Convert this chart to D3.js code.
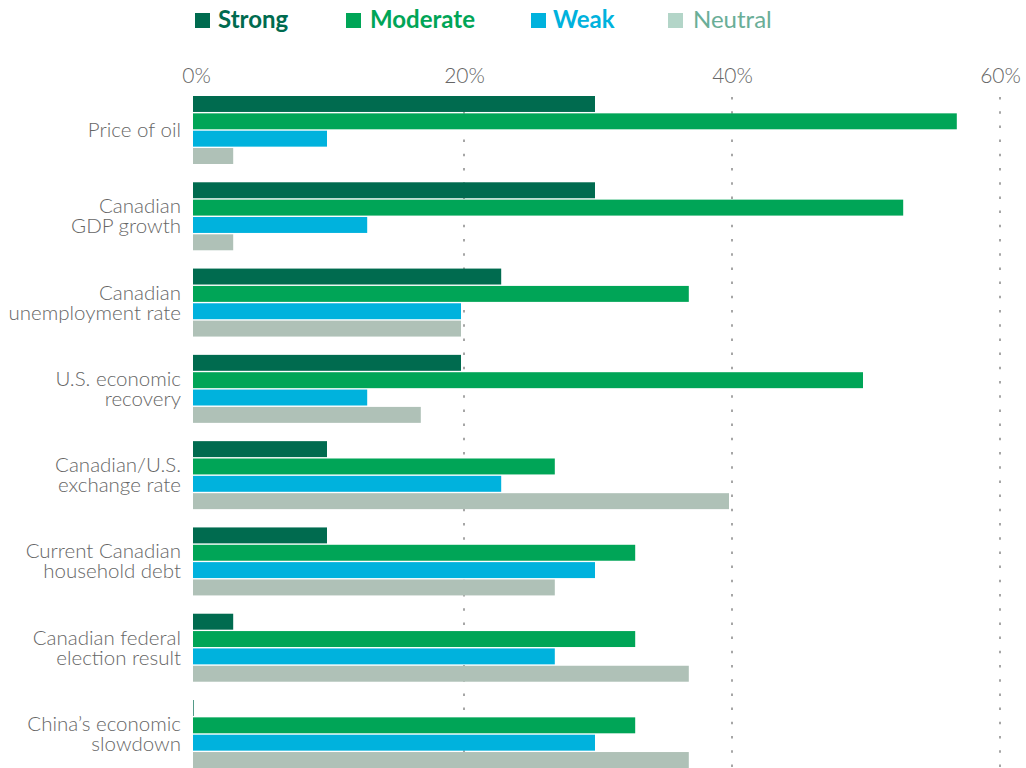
<!DOCTYPE html>
<html>
<head>
<meta charset="utf-8">
<script src="https://cdn.jsdelivr.net/npm/d3@7"></script>
<style>
  html, body { margin: 0; padding: 0; background: #fff; }
  svg { display: block; }
</style>
</head>
<body>
<svg id="chart" width="1026" height="768"></svg>
<script>
// Survey categories, top to bottom
const categories = [
  "Price of oil",
  "Canadian GDP growth",
  "Canadian unemployment rate",
  "U.S. economic recovery",
  "Canadian/U.S. exchange rate",
  "Current Canadian household debt",
  "Canadian federal election result",
  "China’s economic slowdown"
];
// Label lines as shown on the axis
const labelLines = [
  ["Price of oil"],
  ["Canadian", "GDP growth"],
  ["Canadian", "unemployment rate"],
  ["U.S. economic", "recovery"],
  ["Canadian/U.S.", "exchange rate"],
  ["Current Canadian", "household debt"],
  ["Canadian federal", "election result"],
  ["China’s economic", "slowdown"]
];
const seriesNames = ["Strong", "Moderate", "Weak", "Neutral"];
// Percent of respondents per category
const strong   = [30, 30, 23, 20, 10, 10, 3, 0.05];
const moderate = [57, 53, 37, 50, 27, 33, 33, 33];
const weak     = [10, 13, 20, 13, 23, 30, 27, 30];
const neutral  = [3, 3, 20, 17, 40, 27, 37, 37];
const tickValues = [0, 20, 40, 60];
const tickLabels = ["0%", "20%", "40%", "60%"];

const seriesValues = [strong, moderate, weak, neutral];
const barColors = ["#006B4F", "#00A557", "#00B2DD", "#AFC1B7"];
const legendSwatch = ["#006B4F", "#00A557", "#00B2DD", "#B3D5C8"];
const legendText = ["#006B4F", "#00A557", "#00B2DD", "#6AAE97"];

const svg = d3.select("#chart");

const x = d3.scaleLinear().domain([0, 60]).range([193, 997]);
const y = d3.scaleBand().domain(categories).range([96, 768]).paddingInner(0.212).paddingOuter(0);
const ys = d3.scaleBand().domain(seriesNames).range([0, y.bandwidth()]).paddingInner(0.08).paddingOuter(0);

// Axis layer (gridlines + tick labels) sits a few pixels right of the bar origin
const axisLayer = svg.append("g").attr("transform", "translate(3,0)");

// Dotted vertical gridlines
axisLayer.append("g")
  .selectAll("line")
  .data(tickValues.filter(v => v > 0))
  .join("line")
  .attr("x1", d => x(d)).attr("x2", d => x(d))
  .attr("y1", 97).attr("y2", 768)
  .attr("stroke", "#a6a6a6")
  .attr("stroke-width", 2)
  .attr("stroke-dasharray", "2.5 11.7");

// Top axis tick labels
const axis = d3.axisTop(x).tickValues(tickValues).tickFormat((d, i) => tickLabels[i]).tickSize(0).tickPadding(0);
const axisG = axisLayer.append("g").attr("transform", "translate(0,83)").call(axis);
axisG.select(".domain").remove();
axisG.selectAll("text")
  .attr("font-family", "Lato, 'Open Sans', sans-serif")
  .attr("font-weight", 300)
  .attr("font-size", 21)
  .attr("fill", "#666");

// Bars
const rows = categories.map((c, i) => ({ cat: c, vals: seriesNames.map((s, j) => ({ s, j, v: seriesValues[j][i] })) }));
const groups = svg.append("g").selectAll("g")
  .data(rows).join("g")
  .attr("transform", d => `translate(0,${y(d.cat)})`);
groups.selectAll("rect")
  .data(d => d.vals).join("rect")
  .attr("x", x(0))
  .attr("y", d => ys(d.s))
  .attr("width", d => x(d.v) - x(0))
  .attr("height", ys.bandwidth())
  .attr("fill", d => barColors[d.j]);

// Category labels
const labels = svg.append("g").selectAll("text")
  .data(rows).join("text")
  .attr("text-anchor", "end")
  .attr("font-family", "Lato, 'Open Sans', sans-serif")
  .attr("font-weight", 300)
  .attr("font-size", 20.5)
  .attr("fill", "#666")
  .attr("transform", (d, i) => {
    const n = labelLines[i].length;
    const cy = y(d.cat) + y.bandwidth() / 2;
    return `translate(181,${cy - (n - 1) * 10 + 7})`;
  });
labels.selectAll("tspan")
  .data((d, i) => labelLines[i]).join("tspan")
  .attr("x", 0)
  .attr("dy", (d, k) => k === 0 ? 0 : 20)
  .text(d => d);

// Legend
const legendX = [195, 346, 531, 668];
const legendGap = [23, 24, 22, 25];
const legend = svg.append("g").selectAll("g")
  .data(seriesNames).join("g")
  .attr("transform", (d, i) => `translate(${legendX[i]},13)`);
legend.append("rect")
  .attr("width", 15).attr("height", 15)
  .attr("fill", (d, i) => legendSwatch[i]);
legend.append("text")
  .attr("x", (d, i) => legendGap[i])
  .attr("y", 15)
  .attr("font-family", "Lato, 'Open Sans', sans-serif")
  .attr("font-weight", (d, i) => i === 3 ? 400 : 700)
  .attr("font-size", 24)
  .attr("fill", (d, i) => legendText[i])
  .text(d => d);
</script>
</body>
</html>
